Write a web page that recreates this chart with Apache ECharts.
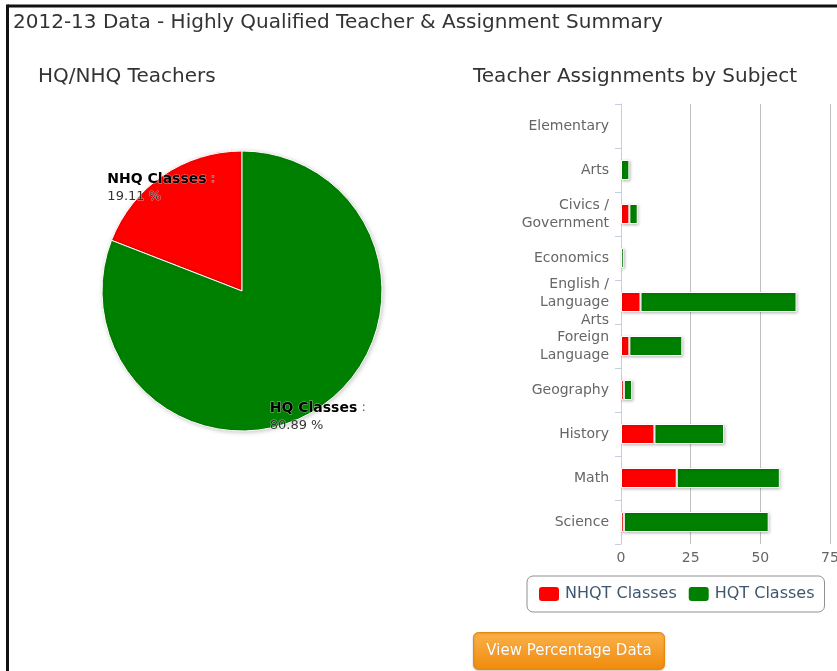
<!DOCTYPE html>
<html>
<head>
<meta charset="utf-8">
<title>2012-13 Data - Highly Qualified Teacher & Assignment Summary</title>
<script src="https://cdn.jsdelivr.net/npm/echarts@6/dist/echarts.min.js"></script>
<style>
  html, body { margin: 0; padding: 0; background: #fff; }
  #chart { width: 837px; height: 671px; }
</style>
</head>
<body>
<div id="chart"></div>
<script>
// data
const subjects = ['Elementary', 'Arts', 'Civics /\nGovernment', 'Economics', 'English /\nLanguage\nArts',
  'Foreign\nLanguage', 'Geography', 'History', 'Math', 'Science'];
const nhqtClasses = [0, 0, 3, 0, 7, 3, 1, 12, 20, 1];
const hqtClasses = [0, 3, 3, 1, 56, 19, 3, 25, 37, 52];
const pieNames = ['NHQ Classes', 'HQ Classes'];
const xTicks = [0, 25, 50, 75];

const FONT = '"DejaVu Sans", Verdana, sans-serif';

const sum = arr => arr.reduce((a, b) => a + b, 0);
const pieData = [
  { name: pieNames[0], value: sum(nhqtClasses), itemStyle: { color: '#FF0000' } },
  { name: pieNames[1], value: sum(hqtClasses), itemStyle: { color: '#008000' } }
];
// small nudges so the pie labels land where the original put them
const pieLabelOffsets = [[0, 15], [-5, 8]];

const chart = echarts.init(document.getElementById('chart'));

const barStyle = color => ({
  color: color,
  borderColor: '#fff',
  borderWidth: 1,
  shadowColor: 'rgba(0,0,0,0.25)',
  shadowBlur: 3,
  shadowOffsetX: 1,
  shadowOffsetY: 1
});

// zero counts draw no bar at all
const noZero = arr => arr.map(v => (v === 0 ? null : v));

const titleStyle = { fontFamily: FONT, fontSize: 20, fontWeight: 'normal', color: '#333' };

const option = {
  backgroundColor: '#fff',
  animation: false,
  title: [
    { text: '2012-13 Data - Highly Qualified Teacher & Assignment Summary', left: 13, top: 13, padding: 0, textStyle: titleStyle },
    { text: 'HQ/NHQ Teachers', left: 38, top: 67, padding: 0, textStyle: titleStyle },
    { text: 'Teacher Assignments by Subject', left: 473, top: 67, padding: 0, textStyle: titleStyle }
  ],
  legend: {
    data: ['NHQT Classes', 'HQT Classes'],
    left: 527, top: 576,
    orient: 'horizontal',
    padding: [9, 10],
    borderColor: '#909090', borderWidth: 1, borderRadius: 6,
    itemWidth: 22, itemHeight: 16, itemGap: 10,
    icon: 'roundRect',
    textStyle: { fontFamily: FONT, fontSize: 16, color: '#3E576F' }
  },
  grid: { left: 621, right: 7, top: 104, bottom: 127, containLabel: false, outerBoundsMode: 'none' },
  xAxis: {
    type: 'value', min: xTicks[0], max: xTicks[xTicks.length - 1], interval: 25,
    axisLine: { show: false }, axisTick: { show: false },
    splitLine: { lineStyle: { color: '#C0C0C0', width: 1 } },
    axisLabel: { color: '#666', fontFamily: FONT, fontSize: 14, margin: 7 }
  },
  yAxis: {
    type: 'category', data: subjects, inverse: true,
    axisLine: { lineStyle: { color: '#C0D0E0' } },
    axisTick: { show: true, length: 6, lineStyle: { color: '#C0D0E0' } },
    axisLabel: { color: '#666', fontFamily: FONT, fontSize: 14, lineHeight: 18, margin: 12, align: 'right' }
  },
  series: [
    {
      name: 'NHQ/HQ', type: 'pie', center: [242, 291], radius: 140,
      clockwise: false, startAngle: 90, silent: true,
      label: { show: false }, labelLine: { show: false },
      itemStyle: { borderColor: '#fff', borderWidth: 1, shadowColor: 'rgba(0,0,0,0.2)', shadowBlur: 4, shadowOffsetX: 1, shadowOffsetY: 1 },
      data: pieData
    },
    {
      // label carrier: same angles, twice the radius, so labels sit near the rim
      name: 'labels', type: 'pie', center: [242, 291], radius: 280,
      clockwise: false, startAngle: 90, silent: true,
      itemStyle: { color: 'rgba(0,0,0,0)' },
      labelLine: { show: false },
      label: {
        show: true, position: 'inside',
        formatter: '{n|{b}}{c| :}\n{p|{d} %}',
        textBorderColor: 'rgba(255,255,255,0.5)', textBorderWidth: 1,
        rich: {
          n: { fontFamily: FONT, fontSize: 14, fontWeight: 'bold', color: '#000', lineHeight: 18, align: 'left' },
          c: { fontFamily: FONT, fontSize: 13, color: '#666', lineHeight: 18, align: 'left' },
          p: { fontFamily: FONT, fontSize: 13, color: '#333', lineHeight: 18, align: 'left' }
        }
      },
      data: pieData.map((d, i) => ({ name: d.name, value: d.value, label: { offset: pieLabelOffsets[i] } }))
    },
    {
      name: 'NHQT Classes', type: 'bar', stack: 'total', barWidth: 20,
      itemStyle: barStyle('#FF0000'), data: noZero(nhqtClasses)
    },
    {
      name: 'HQT Classes', type: 'bar', stack: 'total', barWidth: 20,
      itemStyle: barStyle('#008000'), data: noZero(hqtClasses)
    }
  ],
  graphic: [
    // page frame
    { type: 'line', shape: { x1: 7.5, y1: 6, x2: 837, y2: 6 }, style: { stroke: '#111', lineWidth: 3 } },
    { type: 'line', shape: { x1: 7.5, y1: 4.5, x2: 7.5, y2: 671 }, style: { stroke: '#111', lineWidth: 3 } },
    // button
    {
      type: 'group', left: 473, top: 632,
      children: [
        {
          type: 'rect', shape: { x: 0, y: 0, width: 191, height: 37, r: 5 },
          style: {
            fill: new echarts.graphic.LinearGradient(0, 0, 0, 1, [
              { offset: 0, color: '#FBB24A' }, { offset: 1, color: '#F08A0C' }
            ]),
            stroke: '#E8890F', lineWidth: 1,
            shadowColor: 'rgba(0,0,0,0.2)', shadowBlur: 2, shadowOffsetY: 1
          }
        },
        {
          type: 'text', x: 95.5, y: 18.5,
          style: {
            text: 'View Percentage Data', fill: '#fff', align: 'center', verticalAlign: 'middle',
            font: '15px ' + FONT, textShadowColor: 'rgba(0,0,0,0.15)', textShadowBlur: 1
          }
        }
      ]
    }
  ]
};

chart.setOption(option);
</script>
</body>
</html>
